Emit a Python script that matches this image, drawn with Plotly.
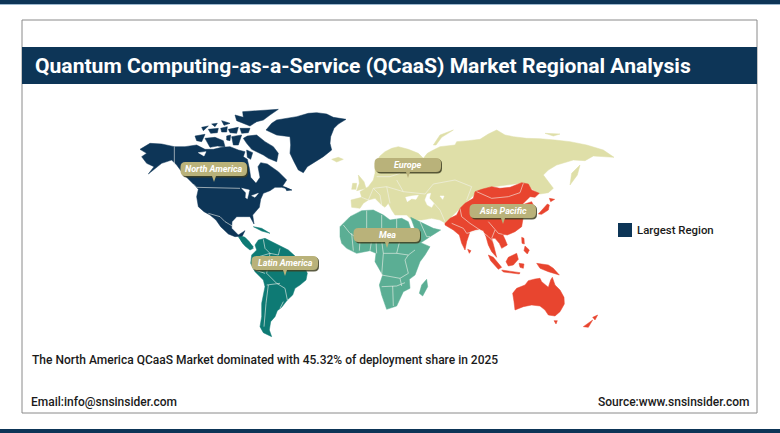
#!/usr/bin/env python
"""QCaaS market regional analysis map"""

import plotly.graph_objects as go

NA_ORIGIN = (130, 100)
SOUTH_ORIGIN = (200, 220)
EURASIA_ORIGIN = (340, 120)
APAC_ORIGIN = (420, 180)

north_america = [
    [(30, 148), (45, 140), (60, 130), (95, 132), (133, 140), (165, 140), (200, 135), (225, 148), (250, 148), (275, 142), (300, 140), (325, 150), (345, 155), (340, 170), (352, 178), (358, 205), (362, 232), (378, 250), (390, 232), (384, 200), (392, 188), (412, 192), (430, 205), (445, 215), (470, 240), (458, 258), (485, 270), (455, 262), (435, 262), (420, 272), (400, 280), (392, 298), (388, 322), (368, 345), (372, 372), (360, 350), (340, 350), (320, 350), (306, 365), (305, 385), (325, 405), (345, 392), (337, 408), (315, 410), (295, 402), (272, 380), (258, 360), (240, 345), (222, 335), (205, 320), (200, 290), (205, 268), (190, 252), (160, 222), (140, 195), (125, 180), (95, 190), (75, 205), (55, 222), (72, 200), (50, 190), (35, 170), (50, 160)],
    [(408, 90), (425, 70), (440, 60), (470, 55), (500, 50), (535, 40), (560, 38), (590, 42), (610, 52), (648, 58), (625, 72), (612, 85), (602, 110), (600, 130), (605, 150), (580, 170), (550, 190), (532, 200), (520, 218), (505, 210), (492, 185), (480, 160), (482, 135), (480, 110), (440, 105)],
    [(315, 45), (340, 52), (338, 35), (380, 32), (445, 28), (420, 45), (400, 60), (380, 65), (360, 78), (320, 62)],
    [(340, 115), (352, 108), (380, 105), (405, 125), (430, 140), (445, 160), (440, 185), (415, 175), (400, 165), (365, 148), (350, 130)],
    [(225, 115), (255, 112), (280, 122), (285, 140), (262, 138), (240, 142)],
    [(195, 108), (225, 103), (215, 125), (200, 122)],
    [(235, 88), (265, 85), (262, 98), (242, 100)],
    [(275, 62), (300, 70), (282, 76)],
    [(272, 85), (292, 80), (290, 96), (275, 96)],
    [(295, 88), (325, 82), (320, 100), (300, 98)],
    [(330, 85), (360, 85), (355, 98), (335, 100)],
    [(290, 108), (302, 105), (300, 122), (290, 120)],
    [(305, 110), (335, 105), (325, 135), (310, 135)],
    [(215, 82), (235, 78), (220, 92)],
    [(245, 72), (262, 70), (255, 80)],
    [(350, 150), (368, 158), (362, 178), (352, 172)],
    [(465, 262), (485, 270), (470, 272)],
]
central_america = [
    [(325, 405), (345, 412), (358, 425), (370, 445), (360, 450), (345, 438), (335, 425)],
]
caribbean = [
    [(370, 380), (395, 385), (420, 400), (395, 393)],
]
na_lakes = [
    [(335, 265), (358, 270), (352, 296), (347, 293), (348, 278)],
    [(365, 287), (385, 280), (375, 292)],
    [(205, 158), (228, 155), (222, 168)],
]
na_borders = [
    [(133, 140), (133, 195)],
    [(190, 252), (200, 262), (330, 265)],
    [(235, 340), (250, 345), (270, 350), (285, 365), (310, 380)],
]

latin_america = [
    [(165, 75), (175, 60), (195, 55), (215, 65), (240, 78), (265, 90), (285, 108), (310, 135), (322, 160), (318, 180), (300, 195), (285, 205), (278, 225), (262, 240), (245, 262), (232, 272), (225, 290), (212, 305), (208, 330), (215, 350), (190, 338), (180, 320), (185, 290), (185, 250), (195, 200), (190, 180), (165, 155), (152, 130), (155, 105), (170, 90)],
    [(115, 50), (140, 60), (160, 80), (155, 84), (130, 72)],
]
latin_borders = [
    [(190, 58), (195, 85), (210, 100), (170, 112)],
    [(210, 100), (235, 105), (240, 85)],
    [(210, 100), (200, 160), (230, 190), (255, 205), (262, 240)],
    [(200, 195), (240, 190)],
    [(205, 195), (198, 250), (192, 320)],
    [(240, 265), (250, 245)],
    [(195, 160), (165, 150)],
]

mea = [
    [(420, 20), (450, -10), (485, -28), (520, -30), (550, -15), (570, 0), (605, -5), (625, 5), (635, 35), (655, 65), (690, 80), (675, 105), (660, 125), (645, 165), (628, 178), (630, 205), (610, 215), (590, 258), (560, 268), (545, 225), (538, 195), (548, 165), (525, 125), (528, 100), (510, 92), (470, 100), (440, 85), (425, 70), (420, 50)],
    [(632, -8), (660, 5), (700, 25), (722, 30), (705, 42), (690, 50), (660, 70), (645, 30)],
    [(658, 220), (665, 195), (680, 178), (683, 200), (668, 228)],
]
mea_borders = [
    [(430, 15), (450, 40), (480, 60), (530, 62), (545, 30), (545, -15)],
    [(500, -28), (500, 60)],
    [(480, 60), (478, 92)],
    [(455, 40), (460, 92)],
    [(545, 30), (590, 30), (590, -5)],
    [(590, 30), (625, 30)],
    [(545, 62), (550, 100), (590, 100), (625, 105), (645, 90)],
    [(590, 100), (600, 60), (640, 55)],
    [(550, 100), (545, 165), (600, 175), (625, 160), (615, 120), (625, 105)],
    [(545, 200), (590, 198), (615, 188)],
    [(600, 175), (605, 198)],
    [(578, 198), (580, 258)],
    [(530, 100), (528, 62)],
    [(510, 92), (515, 60)],
    [(660, 5), (680, 50), (690, 50)],
]

eurasia = [
    [(35, 262), (33, 240), (65, 232), (60, 215), (85, 200), (100, 180), (105, 160), (105, 130), (120, 108), (135, 95), (155, 85), (175, 80), (205, 88), (235, 100), (250, 115), (262, 100), (280, 90), (300, 80), (345, 75), (350, 65), (385, 62), (420, 58), (445, 42), (470, 30), (495, 45), (520, 50), (560, 55), (600, 56), (645, 60), (690, 65), (740, 75), (790, 90), (822, 112), (790, 110), (760, 108), (735, 122), (700, 120), (650, 135), (625, 150), (610, 165), (625, 185), (640, 205), (625, 218), (600, 222), (594, 219), (549, 189), (500, 195), (456, 201), (411, 216), (360, 264), (315, 309), (300, 300), (275, 295), (245, 300), (215, 300), (200, 285), (180, 285), (165, 285), (155, 270), (145, 250), (135, 262), (125, 255), (105, 235), (85, 240), (70, 250), (60, 265)],
    [(690, 195), (695, 160), (720, 135), (712, 165)],
    [(280, 75), (300, 45), (340, 30), (305, 52), (288, 75)],
    [(55, 165), (72, 185), (78, 205), (50, 212), (58, 190)],
    [(38, 190), (50, 190), (48, 208), (35, 208)],
    [(-25, 118), (-5, 112), (10, 118), (-10, 126)],
    [(615, 40), (660, 42), (640, 48)],
]
eurasia_seas = [
    [(197, 232), (215, 228), (235, 226), (228, 238), (215, 236), (202, 245)],
    [(262, 222), (272, 220), (268, 235), (282, 250), (275, 262), (262, 255), (255, 240)],
    [(300, 228), (312, 228), (308, 238)],
]
eurasia_borders = [
    [(85, 240), (100, 205), (140, 200), (190, 215), (255, 222)],
    [(140, 200), (150, 250)],
    [(255, 222), (280, 192), (345, 180), (395, 200), (380, 240)],
    [(282, 250), (300, 270), (315, 305)],
    [(110, 170), (150, 170), (180, 160)],
    [(65, 232), (85, 240)],
    [(100, 205), (120, 225), (125, 255)],
    [(190, 215), (170, 180)],
]

asia_pacific = [
    [(75, 130), (90, 115), (110, 105), (120, 85), (135, 70), (160, 55), (165, 35), (185, 28), (215, 20), (240, 25), (270, 22), (305, 8), (325, 12), (335, 30), (358, 40), (345, 52), (330, 50), (318, 62), (305, 75), (335, 65), (345, 85), (335, 100), (310, 110), (305, 140), (285, 155), (262, 165), (248, 163), (255, 178), (262, 195), (245, 205), (238, 190), (225, 175), (215, 175), (222, 200), (230, 232), (215, 215), (205, 195), (198, 170), (190, 152), (178, 148), (165, 150), (150, 155), (140, 185), (135, 210), (125, 190), (118, 165), (100, 150), (75, 135)],
    [(143, 208), (153, 212), (148, 220)],
    [(205, 225), (220, 232), (245, 262), (235, 268), (212, 242)],
    [(245, 270), (300, 278), (298, 282), (250, 276)],
    [(258, 245), (265, 232), (290, 220), (295, 238), (280, 255), (265, 258)],
    [(297, 250), (312, 252), (310, 265), (300, 262)],
    [(305, 172), (312, 175), (313, 192), (306, 190)],
    [(315, 198), (328, 210), (322, 222), (312, 212)],
    [(350, 250), (385, 255), (400, 265), (418, 285), (385, 275), (360, 265)],
    [(278, 340), (290, 325), (315, 315), (325, 302), (345, 297), (360, 295), (365, 305), (385, 322), (392, 300), (397, 292), (405, 315), (420, 330), (432, 352), (433, 372), (420, 395), (405, 408), (385, 405), (375, 390), (360, 378), (335, 375), (310, 380), (285, 390), (282, 365)],
    [(402, 422), (412, 422), (408, 432)],
    [(490, 440), (518, 420), (505, 442)],
    [(518, 412), (533, 405), (525, 420)],
    [(355, 102), (365, 92), (382, 72), (388, 75), (385, 90), (365, 103)],
    [(388, 55), (404, 58), (392, 65)],
]
apac_borders = [
    [(120, 85), (125, 110), (150, 130), (180, 150)],
    [(170, 35), (215, 55), (265, 50), (300, 38), (310, 10)],
    [(95, 130), (130, 145), (140, 160), (180, 150), (205, 170)],
    [(205, 125), (235, 160), (248, 163)],
    [(205, 170), (225, 190)],
    [(225, 150), (215, 175)],
    [(330, 52), (345, 60)],
]

callout_labels = ['North America', 'Europe', 'Asia Pacific', 'Mea', 'Latin America']
callout_x = [214, 408, 503, 387, 285]
callout_y = [169, 165, 211, 235, 263]

NAVY = '#0d3557'
KHAKI = '#dfdfa8'
TEAL = '#5bae94'
GREEN = '#0e7a74'
RED = '#e8452f'
LABEL = '#b9b27a'


def polygons(shapes, origin):
    xs = []
    ys = []
    for shape in shapes:
        for px, py in list(shape) + [shape[0]]:
            xs.append(origin[0] + px / 3)
            ys.append(origin[1] + py / 3)
        xs.append(None)
        ys.append(None)
    return xs, ys


def polylines(lines, origin):
    xs = []
    ys = []
    for line in lines:
        for px, py in line:
            xs.append(origin[0] + px / 3)
            ys.append(origin[1] + py / 3)
        xs.append(None)
        ys.append(None)
    return xs, ys


fig = go.Figure()


def add_land(shapes, origin, color):
    xs, ys = polygons(shapes, origin)
    fig.add_trace(go.Scatter(x=xs, y=ys, mode='lines', fill='toself', fillcolor=color,
                             line=dict(color=color, width=0.5), hoverinfo='skip'))


def add_borders(lines, origin):
    xs, ys = polylines(lines, origin)
    fig.add_trace(go.Scatter(x=xs, y=ys, mode='lines', line=dict(color='#f4f4ec', width=0.6), hoverinfo='skip'))


add_land(eurasia, EURASIA_ORIGIN, KHAKI)
add_land(eurasia_seas, EURASIA_ORIGIN, 'white')
add_borders(eurasia_borders, EURASIA_ORIGIN)
add_land(mea, SOUTH_ORIGIN, TEAL)
add_borders(mea_borders, SOUTH_ORIGIN)
add_land(asia_pacific, APAC_ORIGIN, RED)
add_borders(apac_borders, APAC_ORIGIN)
add_land(latin_america, SOUTH_ORIGIN, GREEN)
add_borders(latin_borders, SOUTH_ORIGIN)
add_land(central_america, NA_ORIGIN, GREEN)
add_land(caribbean, NA_ORIGIN, GREEN)
add_land(north_america, NA_ORIGIN, NAVY)
add_land(na_lakes, NA_ORIGIN, 'white')
add_borders(na_borders, NA_ORIGIN)

shapes = [
    dict(type='rect', x0=0, x1=780, y0=0, y1=4, fillcolor=NAVY, line_width=0),
    dict(type='rect', x0=0, x1=780, y0=4, y1=5, fillcolor='#9db9cf', line_width=0),
    dict(type='rect', x0=0, x1=780, y0=429, y1=433, fillcolor=NAVY, line_width=0),
    dict(type='rect', x0=22, x1=757, y0=20, y1=413, line=dict(color='#8a8a8a', width=1)),
    dict(type='rect', x0=22, x1=757, y0=47, y1=84, fillcolor=NAVY, line_width=0),
    dict(type='rect', x0=618, x1=632, y0=223, y1=237, fillcolor=NAVY, line_width=0),
]


def rounded_path(x0, x1, y0, y1, r, tip=None):
    path = 'M %s,%s L %s,%s Q %s,%s %s,%s L %s,%s Q %s,%s %s,%s ' % (
        x0 + r, y0, x1 - r, y0, x1, y0, x1, y0 + r, x1, y1 - r, x1, y1, x1 - r, y1)
    if tip is not None:
        path += 'L %s,%s L %s,%s L %s,%s ' % (tip + 2, y1, tip, y1 + 6, tip - 2, y1)
    path += 'L %s,%s Q %s,%s %s,%s L %s,%s Q %s,%s %s,%s Z' % (
        x0 + r, y1, x0, y1, x0, y1 - r, x0, y0 + r, x0, y0, x0 + r, y0)
    return path


annotations = []
for label, cx, cy in zip(callout_labels, callout_x, callout_y):
    # dark edge under the pill
    shapes.append(dict(type='path', path=rounded_path(cx - 32, cx + 34, cy - 6, cy + 8.5, 5),
                       fillcolor='#3f3f22', opacity=0.85, line_width=0))
    shapes.append(dict(type='path', path=rounded_path(cx - 33.5, cx + 33, cy - 7, cy + 7, 5, tip=cx),
                       fillcolor=LABEL, line_width=0))
    annotations.append(dict(x=cx, y=cy - 0.5, text=label, showarrow=False, xanchor='center', yanchor='middle',
                            font=dict(family='Roboto', size=9, color='white', style='italic', weight='bold')))


def add_text(x, y, text, size, color='#1a1a1a', anchor='left', weight=500):
    annotations.append(dict(x=x, y=y, text=text, showarrow=False, xanchor=anchor, yanchor='middle',
                            font=dict(family='Roboto', size=size, color=color, weight=weight)))


add_text(33, 65, 'Quantum Computing-as-a-Service (QCaaS) Market Regional Analysis', 21.1, color='white', weight='bold')
add_text(635, 230, 'Largest Region', 11.4)
add_text(30, 360, 'The North America QCaaS Market dominated with 45.32% of deployment share in 2025', 12)
add_text(29, 402, 'Email:info@snsinsider.com', 12)
add_text(752, 401.5, 'Source:www.snsinsider.com', 12, anchor='right')

fig.update_layout(
    width=780, height=433, margin=dict(l=0, r=0, t=0, b=0),
    paper_bgcolor='white', plot_bgcolor='white', showlegend=False,
    shapes=shapes, annotations=annotations,
    xaxis=dict(range=[0, 780], visible=False, fixedrange=True),
    yaxis=dict(range=[433, 0], visible=False, fixedrange=True),
)

fig.write_html("out.html", config={'displayModeBar': False},
               post_script="document.body.style.margin='0';document.body.style.overflow='hidden';")
